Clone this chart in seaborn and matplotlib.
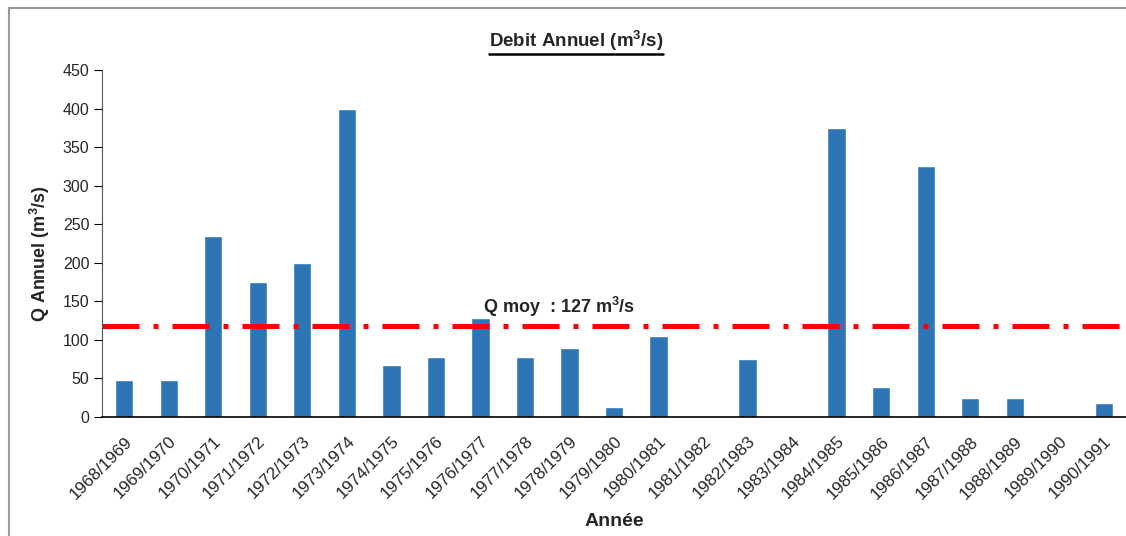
import matplotlib
matplotlib.use("Agg")
import matplotlib.pyplot as plt
import seaborn as sns
import pandas as pd
import numpy as np
from matplotlib.patches import Rectangle
from matplotlib.lines import Line2D

annees = ["1968/1969", "1969/1970", "1970/1971", "1971/1972", "1972/1973", "1973/1974",
          "1974/1975", "1975/1976", "1976/1977", "1977/1978", "1978/1979", "1979/1980",
          "1980/1981", "1981/1982", "1982/1983", "1983/1984", "1984/1985", "1985/1986",
          "1986/1987", "1987/1988", "1988/1989", "1989/1990", "1990/1991"]
debits = [48, 48, 235, 175, 200, 400, 68, 78, 128, 78, 90, 13, 105, 0, 75, 0,
          375, 39, 325, 25, 25, 0, 18]
q_moy_line = 118
q_moy_label = r"Q moy  : 127 m$^{\mathbf{3}}$/s"
y_ticks = [0, 50, 100, 150, 200, 250, 300, 350, 400, 450]

sns.set_theme(style="white")
plt.rcParams['font.family'] = ['Liberation Sans', 'DejaVu Sans']
plt.rcParams['mathtext.fontset'] = 'custom'
plt.rcParams['mathtext.rm'] = 'Liberation Sans'
plt.rcParams['mathtext.bf'] = 'Liberation Sans:bold'

df = pd.DataFrame({"Année": annees, "Q": debits})

fig = plt.figure(figsize=(11.26, 5.36), dpi=100)
ax = fig.add_axes([102/1126, 1 - 417/536, (1126 - 102)/1126, (417 - 70)/536])

sns.barplot(data=df, x="Année", y="Q", color="#2E75B6", saturation=1, width=0.41, ax=ax)

n = len(annees)
ax.set_xlim(-0.5, n - 0.5)
ax.set_ylim(0, 450)
ax.set_yticks(y_ticks)
ax.set_yticklabels([str(v) for v in y_ticks], fontsize=11.5)

ax.set_xticks(range(n))
ax.set_xticklabels(annees, rotation=45, ha="right", rotation_mode="anchor", fontsize=12.3)
ax.set_xticks(np.arange(-0.5, n, 1.0), minor=True)
ax.tick_params(axis="x", which="major", length=0, pad=12)
ax.tick_params(axis="x", which="minor", length=6, width=0.8, color="#444444", direction="out")
ax.tick_params(axis="y", length=6, width=0.8, color="black", direction="out", left=True, pad=3)

for s in ["top", "right"]:
    ax.spines[s].set_visible(False)
ax.spines["left"].set_color("#555555")
ax.spines["bottom"].set_color("black")
ax.spines["left"].set_linewidth(0.8)
ax.spines["bottom"].set_linewidth(1.2)

ax.axhline(q_moy_line, color="#FF0000", linewidth=3.6, dashes=(7.4, 2.8, 1.0, 2.8))
ax.text(8.05, 143, q_moy_label, fontsize=13, fontweight="bold", ha="left", va="center")

ax.set_xlabel("Année", fontsize=14, fontweight="bold", labelpad=8)
ax.set_ylabel(r"Q Annuel (m$^{\mathbf{3}}$/s)", fontsize=13, fontweight="bold")
ax.yaxis.set_label_coords(-0.049, 0.47)

title = fig.text(576/1126, 1 - 41/536, r"Debit Annuel (m$^{\mathbf{3}}$/s)", fontsize=13.5,
                 fontweight="bold", ha="center", va="center")

# figure border
fig.add_artist(Rectangle((9/1126, -0.05), 1.1, 1 - 8/536 + 0.05, transform=fig.transFigure,
                         fill=False, edgecolor="#999999", linewidth=1.5))

# underline title
fig.canvas.draw()
bb = title.get_window_extent()
y_u = (bb.y0 - 1) / fig.bbox.height
fig.add_artist(Line2D([bb.x0 / fig.bbox.width, bb.x1 / fig.bbox.width], [y_u, y_u],
                      transform=fig.transFigure, color="black", linewidth=1.8))

fig.savefig("out.png", dpi=100)
